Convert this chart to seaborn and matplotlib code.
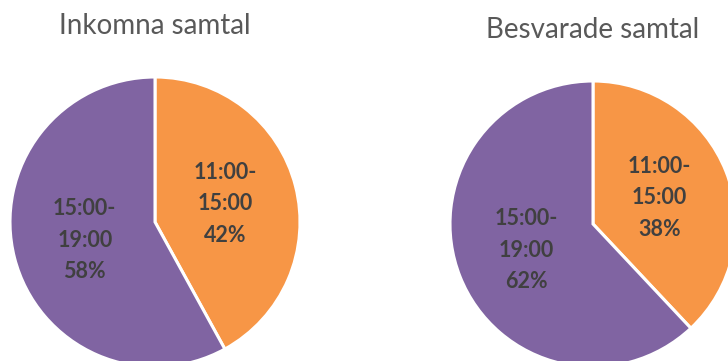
import matplotlib
matplotlib.use("Agg")
import matplotlib.pyplot as plt
import seaborn as sns

sns.set_theme(style="white")
plt.rcParams['font.family'] = ['Lato', 'DejaVu Sans']

# Data
categories = ["11:00-\n15:00", "15:00-\n19:00"]
incoming_pct = [42, 58]
answered_pct = [38, 62]
titles = ["Inkomna samtal", "Besvarade samtal"]

colors = ["#F79646", "#8064A2"]

W, H = 728, 361
fig = plt.figure(figsize=(W / 100, H / 100), dpi=100)
fig.patch.set_facecolor("white")

LIM = 1.05

def add_pie(cx, cy, r, values, title, tx, ty):
    # axes in pixel space -> figure fraction
    half = r * LIM
    ax = fig.add_axes([(cx - half) / W, (H - cy - half) / H, 2 * half / W, 2 * half / H])
    labels = [f"{c}\n{v}%" for c, v in zip(categories, values)]
    wedges, texts = ax.pie(values, labels=labels, colors=colors, startangle=90,
                           counterclock=False, labeldistance=0.5,
                           wedgeprops=dict(edgecolor="white", linewidth=2.2),
                           textprops=dict(fontsize=15.5, fontweight="bold", color="#404040"))
    for t in texts:
        t.set_ha("center")
        t.set_va("center")
        t.set_multialignment("center")
        t.set_linespacing(1.62)
    ax.set_xlim(-LIM, LIM)
    ax.set_ylim(-LIM, LIM)
    ax.set_aspect("auto")
    ax.axis("off")
    fig.text(tx / W, 1 - ty / H, title, ha="center", va="center", fontsize=20, color="#595959")

add_pie(155, 222, 145, incoming_pct, titles[0], 155, 26)
add_pie(593, 224, 143, answered_pct, titles[1], 593, 30)

fig.savefig("out.png", dpi=100)
